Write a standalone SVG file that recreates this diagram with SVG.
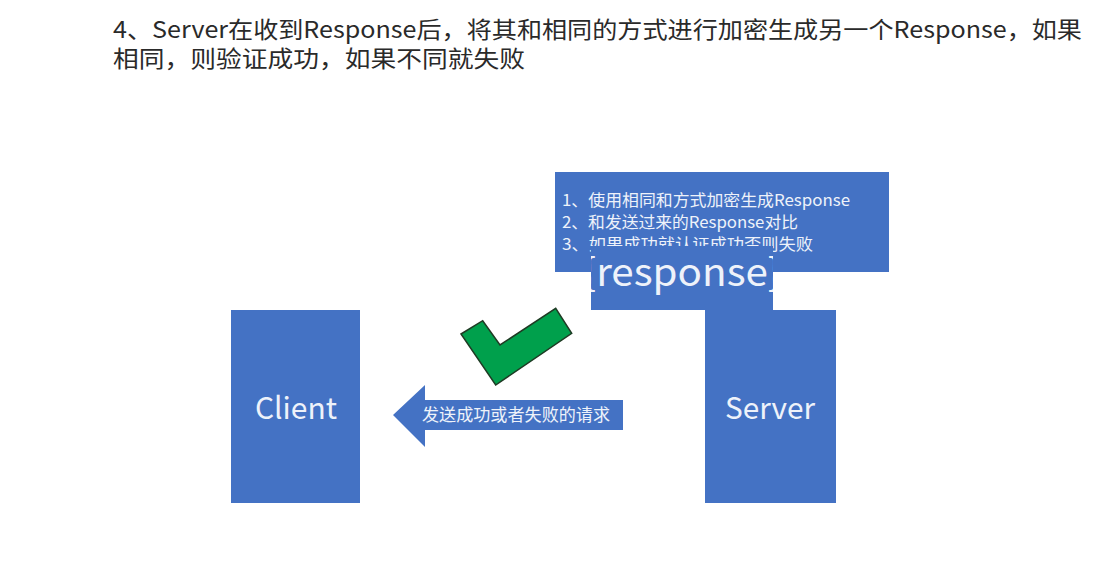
<svg xmlns="http://www.w3.org/2000/svg" width="1120" height="574" viewBox="0 0 1120 574">
<style>
.title{font-family:"Noto Sans CJK SC","Noto Sans",sans-serif;font-size:23px;fill:#2a2a2a}
.blue{fill:#4472C4}
.wt{font-family:"Noto Sans CJK SC","Noto Sans",sans-serif;fill:#eef2fa}
.note{font-size:16px}
.big{font-size:30px}
</style>
<defs>
<clipPath id="respClip"><rect x="591" y="246" width="182" height="64"/></clipPath>
</defs>
<rect width="1120" height="574" fill="#ffffff"/>
<text class="title" x="113" y="38" textLength="969" lengthAdjust="spacingAndGlyphs">4、Server在收到Response后，将其和相同的方式进行加密生成另一个Response，如果</text>
<text class="title" x="113" y="67" textLength="412" lengthAdjust="spacingAndGlyphs">相同，则验证成功，如果不同就失败</text>

<g id="note">
<rect class="blue" x="555" y="172" width="334" height="100"/>
<text class="wt note" x="562" y="206" textLength="288" lengthAdjust="spacingAndGlyphs">1、使用相同和方式加密生成Response</text>
<text class="wt note" x="562" y="228" textLength="236" lengthAdjust="spacingAndGlyphs">2、和发送过来的Response对比</text>
<text class="wt note" x="562" y="250" textLength="251" lengthAdjust="spacingAndGlyphs">3、如果成功就认证成功否则失败</text>
</g>

<g id="response">
<rect class="blue" x="591" y="246" width="182" height="64"/>
<g clip-path="url(#respClip)">
<text class="wt" x="682" y="286" font-size="38" text-anchor="middle" textLength="199" lengthAdjust="spacingAndGlyphs">{response}</text>
</g>
</g>

<g id="client">
<rect class="blue" x="231" y="310" width="129" height="193"/>
<text class="wt big" x="296" y="419" text-anchor="middle" textLength="82" lengthAdjust="spacingAndGlyphs">Client</text>
</g>

<g id="server">
<rect class="blue" x="705" y="310" width="131" height="193"/>
<text class="wt big" x="770" y="419" text-anchor="middle" textLength="90" lengthAdjust="spacingAndGlyphs">Server</text>
</g>

<g id="check">
<polygon points="461,334 482.7,320.7 500,345 555.7,308.3 571.7,333.3 495.7,385" fill="#00A04C" stroke="#1F3B24" stroke-width="1.5" stroke-linejoin="miter"/>
</g>

<g id="connectors">
<g id="arrow">
<polygon class="blue" points="393,415 425,385 425,400 623,400 623,430 425,430 425,447"/>
<text class="wt" x="422" y="421" font-size="17" textLength="188" lengthAdjust="spacingAndGlyphs">发送成功或者失败的请求</text>
</g>
</g>
</svg>
